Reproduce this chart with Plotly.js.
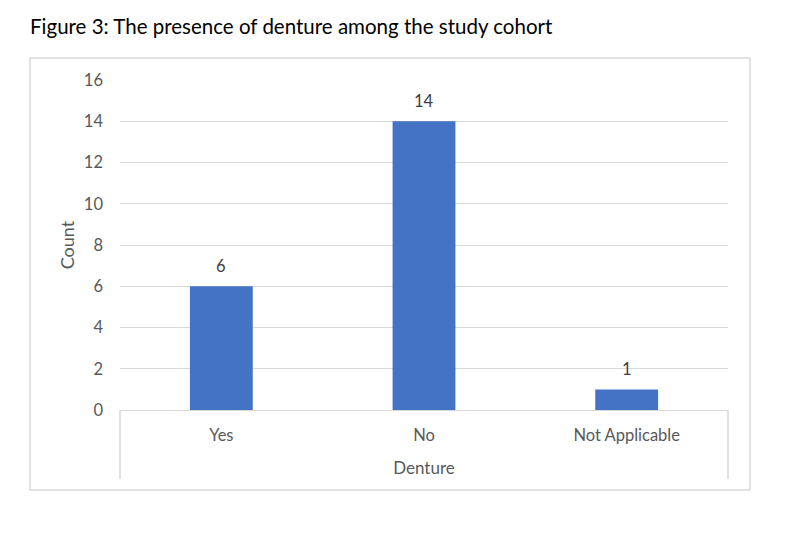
<!DOCTYPE html>
<html>
<head>
<meta charset="utf-8">
<script src="https://cdn.plot.ly/plotly-3.0.1.min.js"></script>
<style>
  html, body { margin: 0; padding: 0; background: #ffffff; }
  #chart { width: 793px; height: 539px; }
</style>
</head>
<body>
<div id="chart"></div>
<script>
// Denture presence counts
const categories = ["Yes", "No", "Not Applicable"];
const counts = [6, 14, 1];
const yTickValues = [0, 2, 4, 6, 8, 10, 12, 14, 16];

const FONT = "Lato, 'Open Sans', sans-serif";
const GRID = "#d9d9d9";
const LABEL = "#595959";
const TICK_SIZE = 16.5;

const bars = {
  type: "bar",
  x: categories,
  y: counts,
  marker: { color: "#4472C4", line: { width: 0 } },
  hoverinfo: "x+y"
};

// value labels just above each bar
const valueLabels = categories.map((c, i) => ({
  x: c, y: counts[i], xref: "x", yref: "y",
  text: String(counts[i]), showarrow: false,
  yanchor: "bottom", yshift: 8,
  font: { family: FONT, size: TICK_SIZE, color: "#404040" }
}));

const layout = {
  width: 793,
  height: 539,
  margin: { l: 120, r: 65, t: 80, b: 129, pad: 0 },
  paper_bgcolor: "#ffffff",
  plot_bgcolor: "#ffffff",
  bargap: 0.69,
  showlegend: false,
  font: { family: FONT, size: TICK_SIZE, color: LABEL },
  title: {
    text: "Figure 3: The presence of denture among the study cohort",
    font: { family: FONT, size: 20.5, color: "#000000" },
    xref: "container", yref: "container",
    x: 30 / 793, xanchor: "left",
    y: 1 - 27 / 539, yanchor: "middle"
  },
  xaxis: {
    type: "category",
    showgrid: false,
    showline: true,
    linecolor: GRID,
    linewidth: 1,
    ticks: "",
    ticklabelstandoff: 10,
    tickfont: { family: FONT, size: TICK_SIZE, color: LABEL },
    title: {
      text: "Denture",
      standoff: 18,
      font: { family: FONT, size: 17, color: LABEL }
    },
    fixedrange: true
  },
  yaxis: {
    range: [0, 16],
    tickvals: yTickValues,
    ticktext: yTickValues.map(String),
    showgrid: true,
    gridcolor: GRID,
    gridwidth: 1,
    zeroline: false,
    showline: false,
    ticks: "",
    ticklabelstandoff: 16,
    tickfont: { family: FONT, size: TICK_SIZE, color: LABEL },
    title: {
      text: "Count",
      standoff: 4,
      font: { family: FONT, size: 18, color: LABEL }
    },
    fixedrange: true
  },
  annotations: valueLabels,
  shapes: [
    // outer chart frame
    { type: "rect", xref: "paper", yref: "paper",
      x0: -90 / 608, x1: 630 / 608, y0: -80 / 330, y1: 352 / 330,
      line: { color: GRID, width: 1.5 }, fillcolor: "rgba(0,0,0,0)", layer: "below" },
    // category group dividers
    { type: "line", xref: "paper", yref: "paper",
      x0: 0, x1: 0, y0: 0, y1: -69 / 330,
      line: { color: GRID, width: 1.5 } },
    { type: "line", xref: "paper", yref: "paper",
      x0: 1, x1: 1, y0: 0, y1: -69 / 330,
      line: { color: GRID, width: 1.5 } }
  ]
};

Plotly.newPlot("chart", [bars], layout, { displayModeBar: false, staticPlot: true });
</script>
</body>
</html>
